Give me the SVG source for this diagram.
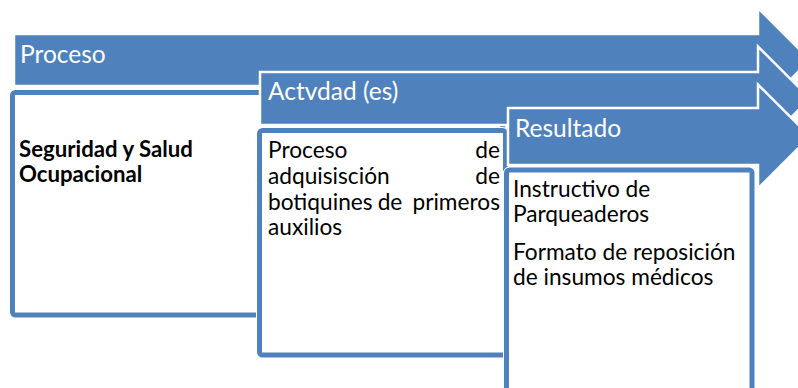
<svg xmlns="http://www.w3.org/2000/svg" width="798" height="388" viewBox="0 0 798 388">
<style>
.arrow{fill:#4F81BD;stroke:#FFFFFF;stroke-width:2.5;stroke-linejoin:miter}
.boxo{fill:none;stroke:#FFFFFF;stroke-width:7}
.box{fill:#FFFFFF;stroke:#4F81BD;stroke-width:5}
.hd{font-family:Lato,"Open Sans",sans-serif;font-size:24.5px;fill:#FFFFFF}
.tx{font-family:Lato,"Open Sans",sans-serif;font-size:22.7px;fill:#000000}
.bd{font-family:Lato,"Open Sans",sans-serif;font-size:22.2px;font-weight:bold;fill:#000000}
</style>
<rect width="798" height="388" fill="#FFFFFF"/>
<g id="proceso-arrow">
<polygon class="arrow" points="14,34 758,34 758,8 810,60 758,112 758,86 14,86"/>
<text class="hd" x="20" y="63">Proceso</text>
</g>
<g id="proceso-box">
<rect class="boxo" x="12.5" y="92.5" width="490" height="222.5" rx="3"/>
<rect class="box" x="12.5" y="92.5" width="490" height="222.5" rx="3"/>
<text class="bd" x="19" y="157">Seguridad y Salud</text>
<text class="bd" x="19" y="182">Ocupacional</text>
</g>
<g id="actividad-arrow">
<polygon class="arrow" points="260,72 758,72 758,46.5 810,98.5 758,150.5 758,125 260,125"/>
<text class="hd" x="268" y="100">Actvdad (es)</text>
</g>
<g id="actividad-box">
<rect class="boxo" x="259.5" y="130.5" width="246" height="224.5" rx="3"/>
<rect class="box" x="259.5" y="130.5" width="246" height="224.5" rx="3"/>
<text class="tx" x="268" y="158">Proceso</text>
<text class="tx" x="500" y="158" text-anchor="end">de</text>
<text class="tx" x="268" y="184">adquisisción</text>
<text class="tx" x="500" y="184" text-anchor="end">de</text>
<text class="tx" x="268" y="210">botiquines</text>
<text class="tx" x="390" y="210" text-anchor="middle">de</text>
<text class="tx" x="500" y="210" text-anchor="end">primeros</text>
<text class="tx" x="268" y="235">auxilios</text>
</g>
<g id="resultado-arrow">
<polygon class="arrow" points="508,108 758,108 758,84.5 810,136.5 758,188.5 758,165 508,165"/>
<text class="hd" x="515" y="137">Resultado</text>
</g>
<g id="resultado-box">
<rect class="boxo" x="506.5" y="170" width="245.5" height="240" rx="3"/>
<rect class="box" x="506.5" y="170" width="245.5" height="240" rx="3"/>
<text class="tx" x="513" y="197">Instructivo de</text>
<text class="tx" x="513" y="222">Parqueaderos</text>
<text class="tx" x="513" y="260">Formato de reposición</text>
<text class="tx" x="513" y="285">de insumos médicos</text>
</g>
<g id="connectors"></g>
</svg>
